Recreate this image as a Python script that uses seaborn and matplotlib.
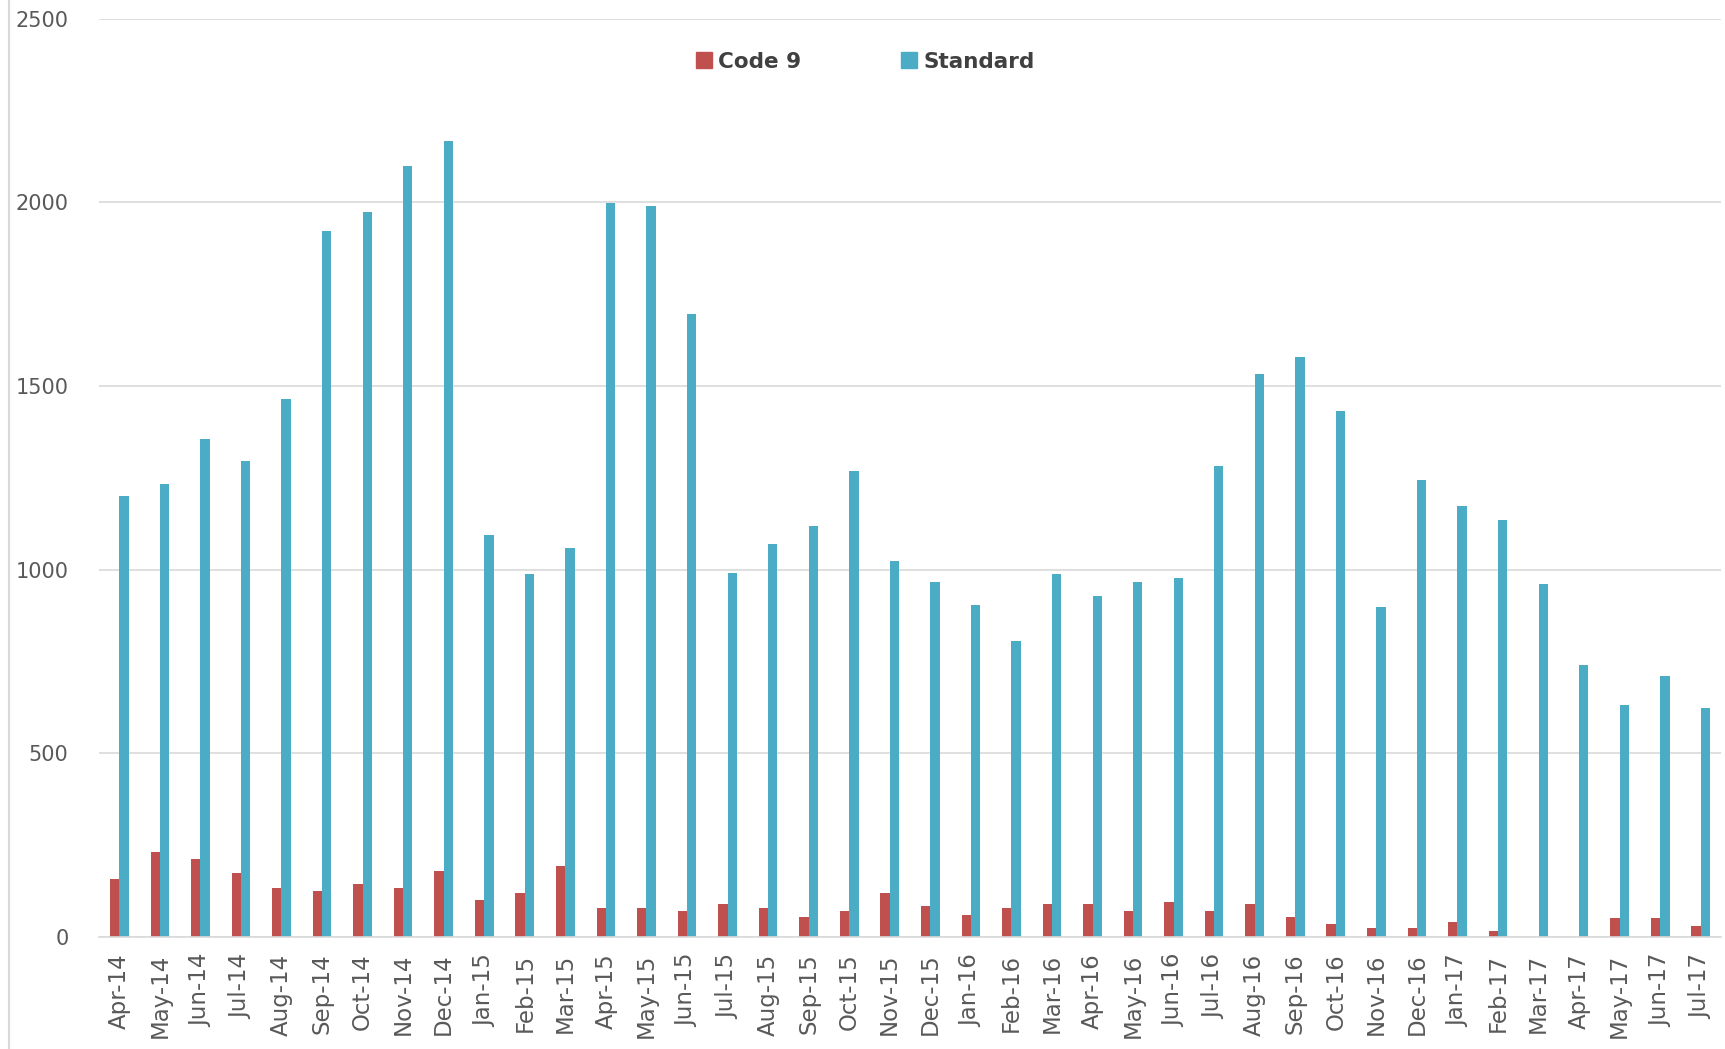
import matplotlib
matplotlib.use('Agg')
import matplotlib.pyplot as plt
import matplotlib.lines as mlines
import seaborn as sns
import pandas as pd
import numpy as np

months = ['Apr-14', 'May-14', 'Jun-14', 'Jul-14', 'Aug-14', 'Sep-14', 'Oct-14', 'Nov-14',
          'Dec-14', 'Jan-15', 'Feb-15', 'Mar-15', 'Apr-15', 'May-15', 'Jun-15', 'Jul-15',
          'Aug-15', 'Sep-15', 'Oct-15', 'Nov-15', 'Dec-15', 'Jan-16', 'Feb-16', 'Mar-16',
          'Apr-16', 'May-16', 'Jun-16', 'Jul-16', 'Aug-16', 'Sep-16', 'Oct-16', 'Nov-16',
          'Dec-16', 'Jan-17', 'Feb-17', 'Mar-17', 'Apr-17', 'May-17', 'Jun-17', 'Jul-17']

code9 = [159, 232, 212, 173, 134, 124, 144, 134, 179, 100, 120, 193, 80, 80, 70, 90,
         80, 55, 70, 120, 85, 61, 80, 90, 90, 70, 95, 70, 90, 55, 35, 25,
         25, 41, 16, 0, 0, 51, 51, 31]

standard = [1200, 1233, 1356, 1296, 1464, 1922, 1973, 2099, 2168, 1093, 988, 1060, 1997, 1991,
            1695, 991, 1069, 1120, 1269, 1024, 967, 904, 805, 988, 928, 967, 976, 1281,
            1533, 1578, 1431, 898, 1243, 1174, 1135, 961, 740, 632, 710, 623]

series_names = ['Code 9', 'Standard']
colors = ['#C0504D', '#4BACC6']
y_ticks = [0, 500, 1000, 1500, 2000, 2500]

df = pd.DataFrame({'Month': months, 'Code 9': code9, 'Standard': standard})
df_long = df.melt(id_vars='Month', var_name='Series', value_name='Count')

sns.set_style('white')
plt.rcParams['font.family'] = ['DejaVu Sans']

fig = plt.figure(figsize=(17.25, 10.49), dpi=100)
ax = fig.add_axes([0.0574, 0.1068, 0.9403, 0.8754])

sns.barplot(data=df_long, x='Month', y='Count', hue='Series', order=months,
            hue_order=series_names, palette=colors, width=0.46, saturation=1,
            dodge=True, linewidth=0, ax=ax, legend=False)

ax.set_ylim(0, 2500)
ax.set_xlim(-0.5, len(months) - 0.5)
ax.set_yticks(y_ticks)
ax.set_yticklabels([str(t) for t in y_ticks], fontsize=15, color='#595959')
ax.yaxis.grid(True, color='#D9D9D9', linewidth=1.2)
ax.set_axisbelow(True)
ax.set_xlabel('')
ax.set_ylabel('')

ax.set_xticks(np.arange(len(months)))
ax.set_xticklabels(months, rotation=90, fontsize=16.5, color='#595959')
ax.tick_params(axis='x', which='major', length=0, pad=12)
ax.tick_params(axis='y', length=0, pad=22)
ax.set_xticks(np.arange(len(months) + 1) - 0.5, minor=True)
ax.tick_params(axis='x', which='minor', length=9, color='#D9D9D9', width=1.2)

for s in ['top', 'right', 'left']:
    ax.spines[s].set_visible(False)
ax.spines['bottom'].set_color('#D9D9D9')
ax.spines['bottom'].set_linewidth(1.2)

handles = [plt.Rectangle((0, 0), 1, 1, color=c) for c in colors]
ax.legend(handles, series_names, loc='upper left', bbox_to_anchor=(0.356, 0.985),
          ncol=2, frameon=False, handlelength=0.75, handleheight=0.75, handletextpad=0.3,
          columnspacing=4.6, prop={'weight': 'bold', 'size': 15.5}, labelcolor='#404040')

fig.add_artist(mlines.Line2D([0.0052, 0.0052], [0.0, 1.0], color='#D9D9D9',
                             linewidth=1.5, transform=fig.transFigure))

plt.savefig('out.png', dpi=100)
plt.close(fig)
